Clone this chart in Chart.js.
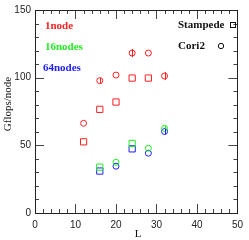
<!DOCTYPE html>
<html>
<head>
<meta charset="utf-8">
<script src="https://cdn.jsdelivr.net/npm/chart.js@4/dist/chart.umd.min.js"></script>
<style>
  html, body { margin: 0; padding: 0; background: #fff; }
  #wrap { width: 249px; height: 240px; }
</style>
</head>
<body>
<div id="wrap"><canvas id="perfChart"></canvas></div>
<script>
const L_STAMPEDE_1 = [12, 16, 20, 24, 28]
const STAMPEDE_1 = [52.6, 76.6, 82, 99.7, 99.7]
const L_CORI_1 = [12, 16, 20, 24, 28, 32]
const CORI_1 = [66.3, 97.8, 101.9, 118.2, 118.2, 101.2]
const CORI_1_ERR = [0, 2, 0, 3, 0, 3]

const L_STAMPEDE_16 = [16, 24]
const STAMPEDE_16 = [33.9, 51.4]
const L_CORI_16 = [20, 28, 32]
const CORI_16 = [37.5, 47.8, 62.5]
const CORI_16_ERR = [0, 0, 2]

const L_STAMPEDE_64 = [16, 24]
const STAMPEDE_64 = [31, 47.4]
const L_CORI_64 = [20, 28, 32]
const CORI_64 = [34.6, 44.2, 60.2]
const CORI_64_ERR = [0, 0, 2]

const X_TICKS = [0, 10, 20, 30, 40, 50]
const Y_TICKS = [0, 50, 100, 150]

const RED = '#ff2020'
const GREEN = '#22ee22'
const BLUE = '#2020ff'

const toPoints = (xs, ys, errs) => xs.map((x, i) => ({ x: x, y: ys[i], err: errs ? errs[i] : 0 }))

const series = (pts, color, style) => ({
    data: pts,
    showLine: false,
    pointStyle: style,
    pointRadius: style === 'rect' ? 4.4 : 3,
    pointBorderWidth: 1,
    pointBorderColor: color,
    pointBackgroundColor: 'rgba(0,0,0,0)',
    borderColor: color,
    backgroundColor: 'rgba(0,0,0,0)'
})

// inward ticks on all four sides, error bars, legend texts and axis titles
const decor = {
    id: 'decor',
    afterDatasetsDraw(chart) {
        const ctx = chart.ctx
        const xs = chart.scales.x, ys = chart.scales.y
        const a = chart.chartArea

        // error bars
        chart.data.datasets.forEach((ds) => {
            ds.data.forEach((p) => {
                if (!p.err) return
                const px = xs.getPixelForValue(p.x)
                ctx.strokeStyle = ds.borderColor
                ctx.lineWidth = 1
                ctx.beginPath()
                ctx.moveTo(Math.round(px) + 0.5, ys.getPixelForValue(p.y - p.err))
                ctx.lineTo(Math.round(px) + 0.5, ys.getPixelForValue(p.y + p.err))
                ctx.stroke()
            })
        })

        ctx.save()
        ctx.strokeStyle = '#444'
        ctx.lineWidth = 1
        ctx.beginPath()
        for (let v = 0; v <= 50; v += 2) {
            const px = Math.round(xs.getPixelForValue(v)) + 0.5
            const len = v % 10 === 0 ? 9 : 4
            ctx.moveTo(px, a.bottom); ctx.lineTo(px, a.bottom - len)
            ctx.moveTo(px, a.top); ctx.lineTo(px, a.top + len)
        }
        for (let v = 0; v <= 150; v += 10) {
            const py = Math.round(ys.getPixelForValue(v)) + 0.5
            const len = v % 50 === 0 ? 9 : 4
            ctx.moveTo(a.left, py); ctx.lineTo(a.left + len, py)
            ctx.moveTo(a.right, py); ctx.lineTo(a.right - len, py)
        }
        ctx.stroke()
        ctx.strokeStyle = '#222'
        ctx.strokeRect(Math.round(a.left) + 0.5, Math.round(a.top) + 0.5,
            Math.round(a.right - a.left), Math.round(a.bottom - a.top))

        ctx.font = 'bold 11px "Liberation Serif"'
        ctx.textBaseline = 'middle'
        ctx.textAlign = 'left'
        ctx.fillStyle = RED; ctx.fillText('1node', 45, 26)
        ctx.fillStyle = GREEN; ctx.fillText('16nodes', 45, 47)
        ctx.fillStyle = BLUE; ctx.fillText('64nodes', 43, 68)
        ctx.fillStyle = '#111'
        ctx.fillText('Stampede', 178, 25)
        ctx.fillText('Cori2', 178, 46)

        ctx.strokeStyle = '#111'
        ctx.strokeRect(230.5, 22.5, 5, 5)
        ctx.beginPath()
        ctx.arc(221, 46, 2.7, 0, Math.PI * 2)
        ctx.stroke()

        ctx.font = '11px "Liberation Serif"'
        ctx.textAlign = 'center'
        ctx.fillText('L', 138, 234)
        ctx.translate(8, 104)
        ctx.rotate(-Math.PI / 2)
        ctx.fillText('Gflops/node', 0, 0)
        ctx.restore()
    }
}

new Chart(document.getElementById('perfChart'), {
    type: 'scatter',
    data: {
        datasets: [
            series(toPoints(L_STAMPEDE_1, STAMPEDE_1), RED, 'rect'),
            series(toPoints(L_CORI_1, CORI_1, CORI_1_ERR), RED, 'circle'),
            series(toPoints(L_STAMPEDE_16, STAMPEDE_16), GREEN, 'rect'),
            series(toPoints(L_CORI_16, CORI_16, CORI_16_ERR), GREEN, 'circle'),
            series(toPoints(L_STAMPEDE_64, STAMPEDE_64), BLUE, 'rect'),
            series(toPoints(L_CORI_64, CORI_64, CORI_64_ERR), BLUE, 'circle')
        ]
    },
    options: {
        responsive: true,
        maintainAspectRatio: false,
        animation: false,
        layout: { padding: { left: 0, right: 6, top: 5, bottom: 0 } },
        plugins: { legend: { display: false }, tooltip: { enabled: false } },
        scales: {
            x: {
                type: 'linear', min: 0, max: 50,
                afterBuildTicks: (s) => { s.ticks = X_TICKS.map(v => ({ value: v })) },
                afterFit: (s) => { s.height = 27 },
                grid: { display: false, drawTicks: false },
                border: { display: false },
                ticks: { color: '#222', padding: 6, maxRotation: 0, font: { family: 'Liberation Sans', size: 10 } }
            },
            y: {
                type: 'linear', min: 0, max: 150,
                afterBuildTicks: (s) => { s.ticks = Y_TICKS.map(v => ({ value: v })) },
                afterFit: (s) => { s.width = 35 },
                grid: { display: false, drawTicks: false },
                border: { display: false },
                ticks: { color: '#222', padding: 4, font: { family: 'Liberation Sans', size: 10 } }
            }
        }
    },
    plugins: [decor]
});
</script>
</body>
</html>
